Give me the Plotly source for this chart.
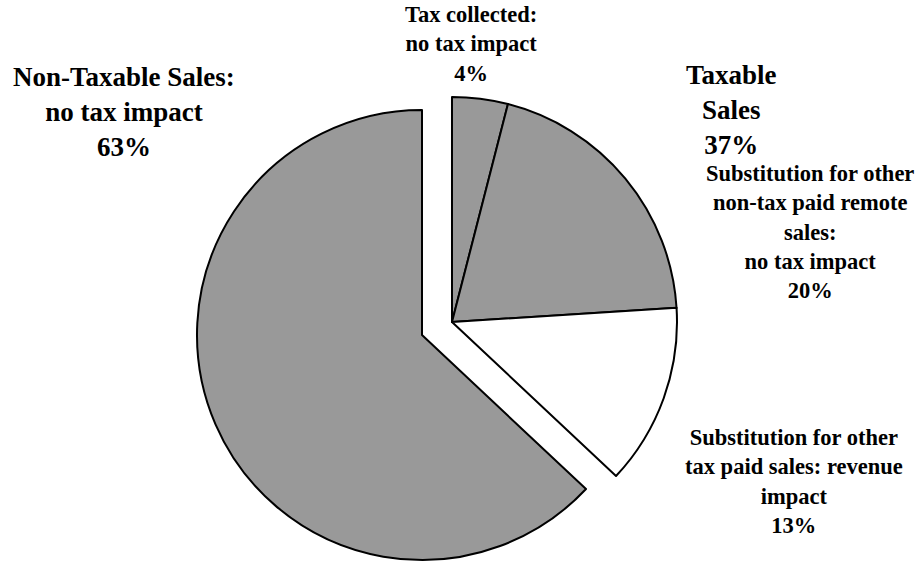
import plotly.graph_objects as go

# ---- data ----
categories = [
    "Tax collected: no tax impact",
    "Substitution for other non-tax paid remote sales: no tax impact",
    "Substitution for other tax paid sales: revenue impact",
    "Non-Taxable Sales: no tax impact",
]
values = [4, 20, 13, 63]
taxable_share = 37

label_lines = [
    ["Tax collected:", "no tax impact"],
    ["Substitution for other", "non-tax paid remote", "sales:", "no tax impact"],
    ["Substitution for other", "tax paid sales: revenue", "impact"],
    ["Non-Taxable Sales:", "no tax impact"],
]
group_lines = ["Taxable", "Sales"]

W, H = 917, 562
GREY = "#999999"
CLEAR = "rgba(0,0,0,0)"
FONT = "Liberation Serif"

def dom(cx, cy, r):
    return dict(x=[(cx - r) / W, (cx + r) / W], y=[(H - (cy + r)) / H, (H - (cy - r)) / H])

fig = go.Figure()
# exploded non-taxable slice
fig.add_trace(go.Pie(
    labels=categories, values=values, sort=False, direction="clockwise", rotation=0,
    textinfo="none", showlegend=False, domain=dom(422, 335, 225),
    marker=dict(colors=[CLEAR, CLEAR, CLEAR, GREY],
                line=dict(color="black", width=[0, 0, 0, 2])),
))
# taxable slices
fig.add_trace(go.Pie(
    labels=categories, values=values, sort=False, direction="clockwise", rotation=0,
    textinfo="none", showlegend=False, domain=dom(452, 322, 225),
    marker=dict(colors=[GREY, GREY, "#FFFFFF", CLEAR],
                line=dict(color="black", width=[2, 2, 2, 0])),
))

def add_label(lines, x, y, size):
    fig.add_annotation(
        text="<br>".join(lines), x=x / W, y=1 - y / H, xref="paper", yref="paper",
        xanchor="center", yanchor="middle", showarrow=False, align="center",
        font=dict(family=FONT, size=size, color="black", weight="bold"),
    )

add_label(label_lines[3] + [f"{values[3]}%"], 124, 112, 27)
add_label(label_lines[0] + [f"{values[0]}%"], 471, 44, 22.5)
add_label(group_lines + [f"{taxable_share}%"], 731, 110, 27)
add_label(label_lines[1] + [f"{values[1]}%"], 810, 232, 22.5)
add_label(label_lines[2] + [f"{values[2]}%"], 794, 481, 22.5)

fig.update_layout(
    width=W, height=H, margin=dict(l=0, r=0, t=0, b=0),
    paper_bgcolor="white", plot_bgcolor="white",
)

fig.write_html("out.html", config={"displayModeBar": False},
               post_script="document.body.style.margin='0';")
